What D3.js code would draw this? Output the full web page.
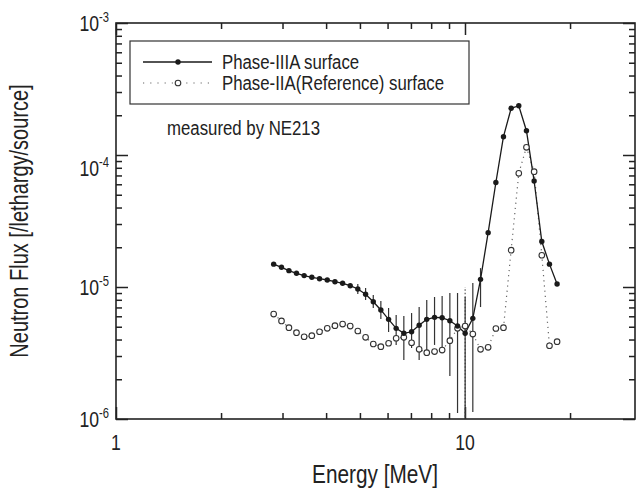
<!DOCTYPE html>
<html>
<head>
<meta charset="utf-8">
<script src="https://cdn.jsdelivr.net/npm/d3@7"></script>
<style>
  body { margin: 0; background: #fff; }
  svg text { font-family: "Liberation Sans", Arial, Helvetica, sans-serif; fill: #222; }
</style>
</head>
<body>
<div id="chart"></div>
<script>
// neutron energy bins [MeV]
var energy = [2.83, 2.98, 3.13, 3.29, 3.46, 3.64, 3.83, 4.03, 4.24, 4.46,
              4.69, 4.93, 5.19, 5.46, 5.74, 6.04, 6.35, 6.68, 7.03, 7.39,
              7.77, 8.18, 8.60, 9.05, 9.52, 10.01, 10.53, 11.08, 11.65, 12.26,
              12.89, 13.56, 14.26, 15.00, 15.78, 16.60, 17.46, 18.36];

// Phase-IIIA surface (filled)
var fluxIIIA = [1.49e-5, 1.41e-5, 1.33e-5, 1.27e-5, 1.22e-5, 1.185e-5, 1.156e-5, 1.13e-5, 1.097e-5, 1.067e-5,
                1.023e-5, 9.66e-6, 8.81e-6, 7.74e-6, 6.70e-6, 5.69e-6, 4.86e-6, 4.46e-6, 4.58e-6, 5.13e-6,
                5.69e-6, 5.89e-6, 5.85e-6, 5.55e-6, 5.06e-6, 4.46e-6, 5.79e-6, 1.143e-5, 2.58e-5, 6.19e-5,
                1.376e-4, 2.258e-4, 2.362e-4, 1.528e-4, 6.35e-5, 2.21e-5, 1.49e-5, 1.054e-5];
var errLowIIIA = [null, null, null, null, null, null, null, null, null, null,
                  null, 8.85e-6, 7.97e-6, 6.93e-6, 5.72e-6, 4.56e-6, 3.64e-6, 2.80e-6, 3.45e-6, 2.80e-6,
                  3.33e-6, 3.64e-6, 3.33e-6, 2.12e-6, 1.11e-6, 5e-7, 1.13e-6, 7.05e-6, null, null,
                  null, null, null, null, null, null, null, null];
var errHighIIIA = [null, null, null, null, null, null, null, null, null, null,
                   null, 1.054e-5, 9.83e-6, 8.70e-6, 7.83e-6, 6.93e-6, 6.14e-6, 6.03e-6, 6.35e-6, 7.05e-6,
                   7.97e-6, 8.40e-6, 8.55e-6, 9.01e-6, 9.01e-6, 8.40e-6, 1.07e-5, 1.39e-5, null, null,
                   null, null, null, null, null, null, null, null];

// Phase-IIA (Reference) surface (open)
var fluxIIA = [6.24e-6, 5.53e-6, 4.92e-6, 4.51e-6, 4.20e-6, 4.28e-6, 4.58e-6, 4.86e-6, 5.09e-6, 5.24e-6,
               5.06e-6, 4.64e-6, 4.16e-6, 3.70e-6, 3.53e-6, 3.75e-6, 4.09e-6, 4.16e-6, 3.78e-6, 3.37e-6,
               3.18e-6, 3.24e-6, 3.33e-6, 3.92e-6, 4.86e-6, 5.06e-6, 4.40e-6, 3.37e-6, 3.49e-6, 4.85e-6,
               4.92e-6, 1.90e-5, 7.27e-5, 1.144e-4, 7.47e-5, 1.74e-5, 3.59e-6, 3.85e-6];
var errLowIIA = energy.map(() => null);
var errHighIIA = energy.map(() => null);
errLowIIA[25] = 1.04e-6; errHighIIA[25] = 1.0e-5;

var xMajor = [1, 10],
    xMajorLabels = ["1", "10"],
    xMinor = [2, 3, 4, 5, 6, 7, 8, 9, 20],
    yMajor = [1e-6, 1e-5, 1e-4, 1e-3],
    yMajorExp = ["-6", "-5", "-4", "-3"],
    yMinor = [2, 3, 4, 5, 6, 7, 8, 9].flatMap(m => [1e-6, 1e-5, 1e-4].map(p => m * p));

var seriesNames = ["Phase-IIIA surface", "Phase-IIA(Reference) surface"];

var W = 639, H = 495;
var margin = { top: 23, right: 4, bottom: 76, left: 116 },
    width = W - margin.left - margin.right,
    height = H - margin.top - margin.bottom;

var squeeze = 0.8; // condensed type face in the scan

var svg = d3.select("#chart").append("svg")
    .attr("width", W)
    .attr("height", H);

var g = svg.append("g")
    .attr("transform", "translate(" + margin.left + "," + margin.top + ")");

var x = d3.scaleLog().domain([1, 30.7]).range([0, width]);
var y = d3.scaleLog().domain([1e-6, 1e-3]).range([height, 0]);

function label(sel, tx, ty, anchor, size, str, rot) {
  var t = sel.append("text")
      .attr("transform", "translate(" + tx + "," + ty + ")" + (rot ? " rotate(" + rot + ")" : "") + " scale(" + squeeze + ",1)")
      .attr("text-anchor", anchor)
      .attr("font-size", size + "px");
  if (str != null) t.text(str);
  return t;
}

// ticks (inward, all four sides)
function tickAxis(axisFn, scale, vals, size, tx, ty) {
  g.append("g")
      .attr("class", "axis")
      .attr("transform", "translate(" + tx + "," + ty + ")")
      .call(axisFn(scale).tickValues(vals).tickSize(size).tickFormat(""))
      .call(a => a.select(".domain").remove());
}
tickAxis(d3.axisBottom, x, xMinor, -6, 0, height);
tickAxis(d3.axisBottom, x, xMajor, -12, 0, height);
tickAxis(d3.axisTop, x, xMinor, -6, 0, 0);
tickAxis(d3.axisTop, x, xMajor, -12, 0, 0);
tickAxis(d3.axisLeft, y, yMinor, -6, 0, 0);
tickAxis(d3.axisLeft, y, yMajor, -12, 0, 0);
tickAxis(d3.axisRight, y, yMinor, -6, width, 0);
tickAxis(d3.axisRight, y, yMajor, -12, width, 0);

g.selectAll(".axis line").attr("stroke", "#222").attr("stroke-width", 1.5);

g.append("rect")
    .attr("width", width)
    .attr("height", height)
    .attr("fill", "none")
    .attr("stroke", "#222")
    .attr("stroke-width", 1.6);

// tick labels
xMajor.forEach((d, i) => label(g, x(d), height + 31, "middle", 22, xMajorLabels[i]));

var yShift = { "-4": 13 };
yMajor.forEach((d, i) => {
  var t = label(g, -7, y(d) + 8 + (yShift[yMajorExp[i]] || 0), "end", 22);
  t.append("tspan").text("10");
  t.append("tspan").attr("dy", -9).attr("font-size", "14px").text(yMajorExp[i]);
});

// axis titles
label(svg, 375, 483, "middle", 26, "Energy [MeV]");
label(svg, 28, 221, "middle", 25, "Neutron Flux [/lethargy/source]", -90);

// error bars
function errorBars(lo, hi, dash, color) {
  var idx = d3.range(energy.length).filter(i => lo[i] != null);
  g.append("g")
    .selectAll("line")
    .data(idx)
    .join("line")
      .attr("x1", i => x(energy[i]))
      .attr("x2", i => x(energy[i]))
      .attr("y1", i => Math.min(height, y(lo[i])))
      .attr("y2", i => y(hi[i]))
      .attr("stroke", color)
      .attr("stroke-width", 1.2)
      .attr("stroke-dasharray", dash);
}
errorBars(errLowIIA, errHighIIA, "1.5,2", "#555");
errorBars(errLowIIIA, errHighIIIA, null, "#333");

var line = d3.line().x(d => x(d[0])).y(d => y(d[1]));

g.append("path")
    .datum(d3.zip(energy, fluxIIA))
    .attr("d", line)
    .attr("fill", "none")
    .attr("stroke", "#666")
    .attr("stroke-width", 1.2)
    .attr("stroke-dasharray", "1.2,4");

g.append("path")
    .datum(d3.zip(energy, fluxIIIA))
    .attr("d", line)
    .attr("fill", "none")
    .attr("stroke", "#1a1a1a")
    .attr("stroke-width", 1.3);

g.append("g")
  .selectAll("circle")
  .data(d3.zip(energy, fluxIIA))
  .join("circle")
    .attr("cx", d => x(d[0]))
    .attr("cy", d => y(d[1]))
    .attr("r", 2.8)
    .attr("fill", "#fff")
    .attr("stroke", "#333")
    .attr("stroke-width", 1.1);

g.append("g")
  .selectAll("circle")
  .data(d3.zip(energy, fluxIIIA))
  .join("circle")
    .attr("cx", d => x(d[0]))
    .attr("cy", d => y(d[1]))
    .attr("r", 2.7)
    .attr("fill", "#1a1a1a");

// legend
var legend = svg.append("g");
legend.append("rect")
    .attr("x", 130).attr("y", 41)
    .attr("width", 339).attr("height", 63)
    .attr("fill", "#fff")
    .attr("stroke", "#333")
    .attr("stroke-width", 1.2);

legend.append("line")
    .attr("x1", 143).attr("x2", 212).attr("y1", 62).attr("y2", 62)
    .attr("stroke", "#1a1a1a").attr("stroke-width", 1.3);
legend.append("circle").attr("cx", 178).attr("cy", 62).attr("r", 2.7).attr("fill", "#1a1a1a");
label(legend, 222, 69, "start", 21, seriesNames[0]);

legend.append("line")
    .attr("x1", 143).attr("x2", 212).attr("y1", 83).attr("y2", 83)
    .attr("stroke", "#666").attr("stroke-width", 1.2).attr("stroke-dasharray", "1.2,6");
legend.append("circle").attr("cx", 178).attr("cy", 83).attr("r", 2.8)
    .attr("fill", "#fff").attr("stroke", "#333").attr("stroke-width", 1.1);
label(legend, 222, 90, "start", 21, seriesNames[1]);

label(svg, 167, 135, "start", 21, "measured by NE213");
</script>
</body>
</html>
